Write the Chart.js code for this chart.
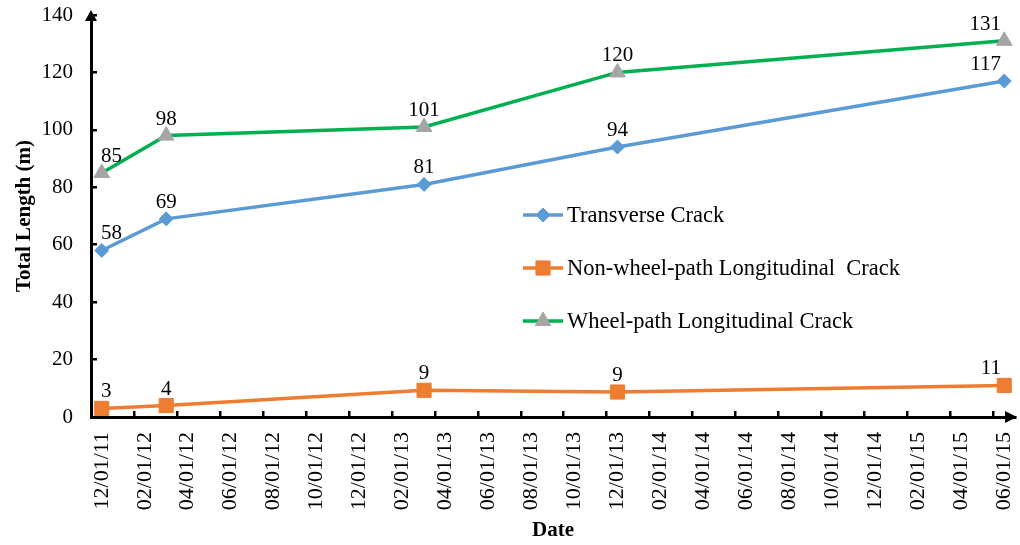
<!DOCTYPE html>
<html>
<head>
<meta charset="utf-8">
<script src="https://cdn.jsdelivr.net/npm/chart.js@4.4.1/dist/chart.umd.min.js"></script>
<style>
  html, body { margin: 0; padding: 0; background: #fff; }
  #wrap { width: 1020px; height: 545px; }
</style>
</head>
<body>
<div id="wrap"><canvas id="crackChart" width="1020" height="545"></canvas></div>
<script>
// one slot per month on the date axis, every second one gets a label
const months = [
  '12/01/11', '01/01/12', '02/01/12', '03/01/12', '04/01/12', '05/01/12', '06/01/12',
  '07/01/12', '08/01/12', '09/01/12', '10/01/12', '11/01/12', '12/01/12',
  '01/01/13', '02/01/13', '03/01/13', '04/01/13', '05/01/13', '06/01/13',
  '07/01/13', '08/01/13', '09/01/13', '10/01/13', '11/01/13', '12/01/13',
  '01/01/14', '02/01/14', '03/01/14', '04/01/14', '05/01/14', '06/01/14',
  '07/01/14', '08/01/14', '09/01/14', '10/01/14', '11/01/14', '12/01/14',
  '01/01/15', '02/01/15', '03/01/15', '04/01/15', '05/01/15', '06/01/15'
];

// survey dates and measured lengths (m)
const surveyDates = ['12/01/11', '03/01/12', '03/01/13', '12/01/13', '06/01/15'];
const transverse = [58, 69, 81, 94, 117];
const nonWheelPath = [3, 4, 9.3, 8.7, 11];
const wheelPath = [85, 98, 101, 120, 131];

const yTicks = [0, 20, 40, 60, 80, 100, 120, 140];

const serif = "'Liberation Serif', 'Times New Roman', serif";
Chart.defaults.font.family = serif;
Chart.defaults.color = '#000';

function points(values) {
  return surveyDates.map((d, i) => ({ x: d, y: values[i] }));
}

function series(label, values, color, markerColor, style, radius) {
  return {
    label: label,
    data: points(values),
    borderColor: color,
    backgroundColor: markerColor,
    borderWidth: 3.5,
    tension: 0,
    pointStyle: style,
    pointRadius: radius,
    pointHoverRadius: radius,
    pointBackgroundColor: markerColor,
    pointBorderColor: markerColor,
    pointBorderWidth: 1
  };
}

// value labels, arrows on the axes, and the legend inside the plot
const decorPlugin = {
  id: 'decor',
  afterDatasetsDraw(chart) {
    const ctx = chart.ctx;
    const area = chart.chartArea;
    ctx.save();
    ctx.font = '21px ' + serif;
    ctx.fillStyle = '#000';
    ctx.textAlign = 'center';
    ctx.textBaseline = 'alphabetic';
    chart.data.datasets.forEach((ds, di) => {
      const meta = chart.getDatasetMeta(di);
      meta.data.forEach((pt, i) => {
        const txt = String(Math.round(ds.data[i].y));
        const w = ctx.measureText(txt).width;
        let x = Math.max(pt.x, area.left + 10 + w / 2);
        x = Math.min(x, area.right - 14 - w / 2);
        ctx.fillText(txt, x, pt.y - 11);
      });
    });
    ctx.restore();
  },
  afterDraw(chart) {
    const ctx = chart.ctx;
    const a = chart.chartArea;
    ctx.save();
    ctx.fillStyle = '#000';
    // y axis arrow
    ctx.beginPath();
    ctx.moveTo(a.left, a.top - 5);
    ctx.lineTo(a.left - 6, a.top + 6);
    ctx.lineTo(a.left + 6, a.top + 6);
    ctx.closePath();
    ctx.fill();
    // x axis arrow
    ctx.beginPath();
    ctx.moveTo(a.right + 2, a.bottom);
    ctx.lineTo(a.right - 10, a.bottom - 6);
    ctx.lineTo(a.right - 10, a.bottom + 6);
    ctx.closePath();
    ctx.fill();

    // legend
    const lx = a.left + 432;
    const rowY = [215, 268, 321];
    ctx.font = '22.5px ' + serif;
    ctx.textAlign = 'left';
    ctx.textBaseline = 'middle';
    chart.data.datasets.forEach((ds, i) => {
      const y = rowY[i];
      ctx.strokeStyle = ds.borderColor;
      ctx.lineWidth = ds.borderWidth;
      ctx.beginPath();
      ctx.moveTo(lx, y);
      ctx.lineTo(lx + 40, y);
      ctx.stroke();
      ctx.fillStyle = ds.pointBackgroundColor;
      ctx.strokeStyle = ds.pointBorderColor;
      ctx.lineWidth = 1;
      Chart.helpers.drawPoint(ctx, {
        pointStyle: ds.pointStyle,
        radius: ds.pointRadius,
        borderWidth: 1,
        rotation: 0
      }, lx + 20, y);
      ctx.fillStyle = '#000';
      ctx.fillText(ds.label, lx + 44, y + 1);
    });
    ctx.restore();
  }
};

new Chart(document.getElementById('crackChart'), {
  type: 'line',
  data: {
    labels: months,
    datasets: [
      series('Transverse Crack', transverse, '#5B9BD5', '#5B9BD5', 'rectRot', 7),
      series('Non-wheel-path Longitudinal  Crack', nonWheelPath, '#ED7D31', '#ED7D31', 'rect', 10),
      series('Wheel-path Longitudinal Crack', wheelPath, '#00B050', '#A5A5A5', 'triangle', 9)
    ]
  },
  options: {
    responsive: false,
    animation: false,
    devicePixelRatio: 1,
    layout: { autoPadding: false, padding: { top: 15, right: 5, left: 0, bottom: 0 } },
    plugins: {
      legend: { display: false },
      tooltip: { enabled: false }
    },
    scales: {
      x: {
        type: 'category',
        offset: true,
        grid: {
          offset: true,
          drawOnChartArea: false,
          tickLength: -6,
          lineWidth: 2.5,
          color: (c) => (c.index % 2 === 0 ? '#000' : 'rgba(0,0,0,0)')
        },
        border: { color: '#000', width: 3 },
        ticks: {
          autoSkip: false,
          minRotation: 90,
          maxRotation: 90,
          padding: 21,
          font: { size: 22 },
          color: '#000',
          callback: function (val, i) {
            return i % 2 === 0 ? this.getLabelForValue(val) : '';
          }
        },
        title: {
          display: true,
          text: 'Date',
          font: { size: 21, weight: 'bold' },
          color: '#000',
          padding: { top: 0, bottom: 2 }
        },
        afterFit(scale) {
          scale.height = 128;
          scale.paddingLeft = 0;
          scale.paddingRight = 0;
        }
      },
      y: {
        min: 0,
        max: 140,
        afterBuildTicks(scale) { scale.ticks = yTicks.map(v => ({ value: v })); },
        grid: {
          drawOnChartArea: false,
          tickLength: -6,
          lineWidth: 2.5,
          color: '#000'
        },
        border: { color: '#000', width: 3 },
        ticks: {
          padding: 24,
          font: { size: 21 },
          color: '#000'
        },
        title: {
          display: true,
          text: 'Total Length (m)',
          font: { size: 21, weight: 'bold' },
          color: '#000',
          padding: { top: 12, bottom: 0 }
        },
        afterFit(scale) {
          scale.width = 91;
          scale.paddingTop = 0;
          scale.paddingBottom = 0;
        }
      }
    }
  },
  plugins: [decorPlugin]
});
</script>
</body>
</html>
